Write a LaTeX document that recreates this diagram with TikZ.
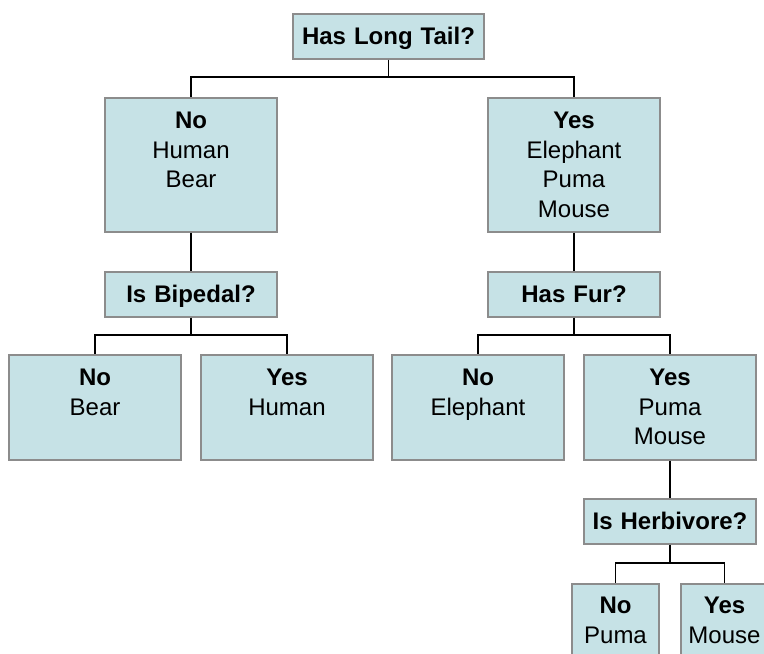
\documentclass[tikz,border=0pt]{standalone}
\usepackage{fontspec}
\setmainfont{Liberation Sans}
\usetikzlibrary{calc}

\definecolor{boxfill}{RGB}{198,226,230}
\definecolor{boxline}{RGB}{140,140,140}

\tikzset{
  box/.style={draw=boxline, fill=boxfill, line width=1.5pt, inner sep=0pt,
    anchor=north, align=center, text width=172pt,
    font=\fontsize{24}{29.5}\selectfont},
  ask/.style={box, text height=30.5pt, text depth=14.5pt,
    font=\fontsize{24}{29.5}\selectfont\bfseries},
  group/.style={box, text height=31pt, text depth=103pt},
  leaf/.style={box, text height=31pt, text depth=74pt},
  tiny/.style={box, text width=87pt, text height=30pt, text depth=60pt},
  link/.style={line width=1.5pt, black}
}

\begin{document}
\begin{tikzpicture}[x=1pt, y=1pt]
  % Fix the frame
  \useasboundingbox (0,0) rectangle (764,-654);
  \clip (0,0) rectangle (764,-654);

  % Draw the first split
  \node[ask, text width=191pt] (tail) at (388.5,-13) {Has Long Tail?};
  \node[group] (tailno) at (191,-97) {\textbf{No}\\Human\\Bear};
  \node[group] (tailyes) at (574,-97) {\textbf{Yes}\\Elephant\\Puma\\Mouse};

  % Draw the second level
  \node[ask] (biped) at (191,-271) {Is Bipedal?};
  \node[ask] (fur) at (574,-271) {Has Fur?};
  \node[leaf] (bipedno) at (95,-354) {\textbf{No}\\Bear};
  \node[leaf] (bipedyes) at (287,-354) {\textbf{Yes}\\Human};
  \node[leaf] (furno) at (478,-354) {\textbf{No}\\Elephant};
  \node[leaf] (furyes) at (670,-354) {\textbf{Yes}\\Puma\\Mouse};

  % Draw the last split
  \node[ask] (herb) at (670,-498) {Is Herbivore?};
  \node[tiny] (herbno) at (615.5,-583) {\textbf{No}\\Puma};
  \node[tiny] (herbyes) at (724.5,-583) {\textbf{Yes}\\Mouse};

  % Points where the branches part
  \coordinate (tailbar) at (388.5,-77);
  \coordinate (bipedbar) at (191,-335);
  \coordinate (furbar) at (574,-335);
  \coordinate (herbbar) at (670,-563);

  % Draw the branches
  \draw[link] (tail.south) -- (tailbar) -| (tailno.north);
  \draw[link] (tailbar) -| (tailyes.north);
  \draw[link] (tailno.south) -- (biped.north);
  \draw[link] (tailyes.south) -- (fur.north);
  \draw[link] (biped.south) -- (bipedbar) -| (bipedno.north);
  \draw[link] (bipedbar) -| (bipedyes.north);
  \draw[link] (fur.south) -- (furbar) -| (furno.north);
  \draw[link] (furbar) -| (furyes.north);
  \draw[link] (furyes.south) -- (herb.north);
  \draw[link] (herb.south) -- (herbbar) -| (herbno.north);
  \draw[link] (herbbar) -| (herbyes.north);
\end{tikzpicture}
\end{document}
